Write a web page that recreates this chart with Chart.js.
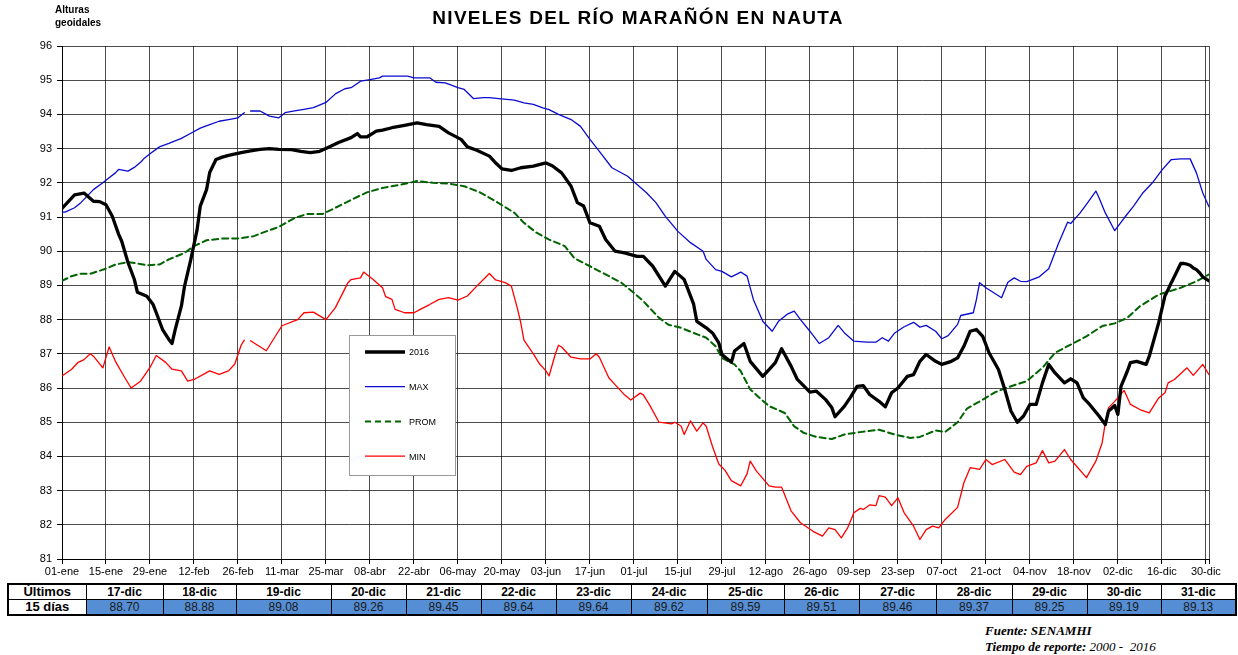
<!DOCTYPE html>
<html>
<head>
<meta charset="utf-8">
<script src="https://cdn.jsdelivr.net/npm/chart.js@4.4.0/dist/chart.umd.min.js"></script>
<style>
  body { margin: 0; background: #fff; font-family: "Liberation Sans", Arial, sans-serif; }
  #wrap { position: relative; width: 1238px; height: 655px; overflow: hidden; }
  #grafico { position: absolute; left: 0; top: 0; }
  #titulo { position: absolute; left: 0; width: 1276px; top: 7px; text-align: center;
            font-weight: bold; font-size: 19px; letter-spacing: 1.3px; }
  #ytitulo { position: absolute; left: 55px; top: 3px; font-weight: bold; font-size: 10px; line-height: 13px; }
  #tabla { position: absolute; left: 7px; top: 583px; border-collapse: collapse; table-layout: fixed;
           border: 2px solid #000; font-size: 12px; }
  #tabla td { border: 1px solid #000; height: 14px; padding: 0; text-align: center; line-height: 14px; }
  #tabla tr:first-child td { font-weight: bold; }
  #tabla td.val { background: #558ed5; color: #1a1a1a; }
  #tabla td.cab { font-weight: bold; font-size: 13px; }
  #fuente { position: absolute; left: 985px; top: 623px; font-family: "Liberation Serif", serif;
            font-style: italic; font-size: 13px; line-height: 16px; }
</style>
</head>
<body>
<div id="wrap">
  <canvas id="grafico" width="1238" height="580"></canvas>
  <div id="titulo">NIVELES DEL RÍO MARAÑÓN EN NAUTA</div>
  <div id="ytitulo">Alturas<br>geoidales</div>
  <table id="tabla"></table>
  <div id="fuente"><b>Fuente: SENAMHI</b><br><b>Tiempo de reporte:</b> 2000 -&nbsp; 2016</div>
</div>
<script>
// Etiquetas del eje X (cada 14 días desde el 01-ene)
const tickLabels = ['01-ene','15-ene','29-ene','12-feb','26-feb','11-mar','25-mar','08-abr','22-abr','06-may',
  '20-may','03-jun','17-jun','01-jul','15-jul','29-jul','12-ago','26-ago','09-sep','23-sep','07-oct',
  '21-oct','04-nov','18-nov','02-dic','16-dic','30-dic'];

// Últimos 15 días (tabla)
const tableDates = ['17-dic','18-dic','19-dic','20-dic','21-dic','22-dic','23-dic','24-dic',
  '25-dic','26-dic','27-dic','28-dic','29-dic','30-dic','31-dic'];
const tableValues = [88.70,88.88,89.08,89.26,89.45,89.64,89.64,89.62,89.59,89.51,89.46,89.37,89.25,89.19,89.13];
const tableFirstDay = 351; // 17-dic

// Serie 2016 (día del año, nivel)
const days2016 = [0,4,7,10,12,14,16,18,19,21,23,24,27,29,30,32,34,35,36,38,
  39,41,43,44,46,47,49,51,53,57,60,63,66,69,73,76,79,82,85,88,
  92,94,95,97,100,102,105,109,113,116,120,123,127,129,132,136,138,140,143,146,
  150,154,156,159,162,164,166,168,171,173,176,179,183,185,188,192,195,198,201,202,
  205,207,209,210,213,214,217,219,223,225,227,229,232,234,238,240,243,245,246,249,
  251,253,255,257,260,262,264,266,269,271,273,275,278,280,283,285,287,289,291,293,
  295,298,300,302,304,306,308,310,312,314,316,319,321,323,325,327,330,332,333,335,
  336,337,339,340,342,345,346,349];
const vals2016 = [91.25,91.65,91.7,91.46,91.45,91.36,91.02,90.5,90.29,89.67,
  89.18,88.8,88.68,88.44,88.2,87.71,87.42,87.3,87.7,88.4,
  88.98,89.76,90.63,91.32,91.8,92.3,92.68,92.75,92.8,92.88,
  92.93,92.98,93.0,92.98,92.97,92.92,92.88,92.92,93.05,93.18,
  93.32,93.44,93.34,93.34,93.51,93.54,93.61,93.68,93.75,93.7,
  93.65,93.46,93.27,93.05,92.95,92.78,92.58,92.41,92.36,92.44,
  92.49,92.58,92.5,92.29,91.9,91.42,91.32,90.83,90.73,90.34,
  90.0,89.95,89.85,89.85,89.56,88.98,89.41,89.17,88.45,87.95,
  87.76,87.61,87.32,86.98,86.75,87.08,87.3,86.78,86.34,86.54,
  86.74,87.15,86.64,86.25,85.88,85.91,85.66,85.42,85.16,85.47,
  85.74,86.05,86.07,85.81,85.61,85.45,85.86,86.0,86.34,86.39,
  86.78,86.98,86.78,86.69,86.78,86.88,87.22,87.66,87.71,87.51,
  87.03,86.54,85.96,85.32,85.0,85.18,85.52,85.52,86.15,86.69,
  86.44,86.15,86.27,86.15,85.71,85.52,85.18,84.93,85.32,85.49,
  85.23,86.05,86.49,86.74,86.78,86.69,86.93,87.91];

// Máximos 2000-2016 (null = sin dato)
const daysMax = [0,1,4,6,8,10,13,15,17,18,21,23,25,26,28,31,34,38,41,44,
  47,50,53,56,58,59,60,63,65,66,69,71,74,77,80,84,87,90,92,95,
  98,101,102,105,110,112,117,119,122,126,128,131,134,136,139,144,147,150,153,155,
  158,162,165,168,171,175,180,183,186,189,192,196,200,204,205,208,210,213,216,218,
  220,223,226,228,231,233,235,238,241,244,247,249,252,256,259,261,263,265,268,271,
  273,275,278,280,282,285,286,290,291,292,294,299,301,303,305,307,311,314,317,320,
  321,324,326,329,330,332,335,338,341,344,347,350,353,356,359,361,363,365];
const valsMax = [91.14,91.14,91.27,91.42,91.61,91.8,92.0,92.15,92.29,92.39,
  92.34,92.45,92.6,92.7,92.85,93.05,93.15,93.3,93.45,93.6,
  93.7,93.8,93.85,93.9,94.05,null,94.1,94.1,94.0,93.95,
  93.9,94.05,94.1,94.15,94.2,94.35,94.6,94.75,94.78,94.97,
  95.02,95.07,95.12,95.12,95.12,95.07,95.07,94.94,94.92,94.78,
  94.73,94.46,94.49,94.49,94.46,94.42,94.34,94.29,94.19,94.14,
  94.0,93.85,93.65,93.27,92.92,92.44,92.19,91.95,91.71,91.42,
  91.02,90.58,90.25,90.0,89.76,89.46,89.41,89.25,89.39,89.27,
  88.59,87.95,87.66,87.95,88.17,88.25,88.0,87.66,87.3,87.47,
  87.83,87.61,87.37,87.34,87.34,87.47,87.37,87.61,87.79,87.92,
  87.78,87.83,87.66,87.44,87.53,87.86,88.12,88.2,88.59,89.08,
  88.93,88.64,89.09,89.22,89.12,89.11,89.25,89.49,90.2,90.85,
  90.81,91.12,91.37,91.76,91.56,91.12,90.6,90.97,91.32,91.71,
  92.0,92.37,92.68,92.7,92.7,92.29,91.71,91.3];

// Promedio
const daysProm = [0,3,6,9,14,17,21,24,27,31,34,39,42,46,51,56,61,65,69,74,
  78,83,87,92,97,102,108,113,118,123,128,133,138,144,147,151,155,160,163,168,
  173,178,182,185,187,190,193,197,201,205,208,210,214,216,219,222,225,230,233,236,
  240,245,249,254,260,265,270,273,278,281,285,288,293,297,302,307,312,316,321,326,
  331,335,339,343,349,356,361,365];
const valsProm = [89.13,89.27,89.34,89.34,89.49,89.61,89.68,89.64,89.59,89.61,
  89.76,89.95,90.15,90.32,90.37,90.37,90.44,90.58,90.71,90.97,
  91.09,91.09,91.27,91.5,91.72,91.85,91.95,92.05,92.0,91.98,
  91.9,91.72,91.46,91.12,90.83,90.54,90.34,90.15,89.8,89.56,
  89.32,89.08,88.78,88.54,88.34,88.05,87.85,87.76,87.61,87.47,
  87.22,86.88,86.69,86.49,85.96,85.71,85.47,85.27,84.88,84.69,
  84.57,84.51,84.64,84.71,84.78,84.64,84.54,84.57,84.76,84.71,
  85.0,85.4,85.66,85.88,86.05,86.2,86.59,87.03,87.27,87.51,
  87.81,87.89,88.05,88.39,88.73,88.93,89.12,89.32];

// Mínimos
const daysMin = [0,3,5,7,9,10,13,15,17,20,22,25,28,30,33,35,38,40,42,45,
  47,50,53,55,57,58,59,60,65,70,75,77,80,84,87,91,92,95,96,99,
  102,103,105,106,109,112,114,117,120,123,126,129,132,136,138,141,143,145,146,147,
  150,152,154,155,157,158,159,162,165,168,170,171,174,176,179,181,184,185,187,190,
  194,195,197,198,200,202,204,205,207,209,211,213,216,218,219,221,225,227,229,232,
  235,239,242,244,246,248,250,252,254,255,257,259,260,262,264,266,268,271,273,275,
  277,279,281,285,287,289,292,294,296,300,303,305,307,310,312,314,316,319,321,326,
  329,331,332,333,335,338,340,343,346,349,351,352,354,358,360,363,365];
const valsMin = [86.35,86.54,86.74,86.83,87.0,86.93,86.59,87.2,86.78,86.3,
  86.0,86.2,86.6,86.95,86.75,86.55,86.5,86.2,86.25,86.4,
  86.5,86.4,86.5,86.7,87.25,87.4,null,87.38,87.09,87.82,
  88.0,88.2,88.22,88.0,88.35,89.08,89.17,89.22,89.39,89.17,
  88.93,88.67,88.59,88.3,88.2,88.2,88.3,88.44,88.59,88.64,
  88.57,88.69,88.98,89.35,89.16,89.08,88.98,88.3,87.9,87.4,
  87.0,86.7,86.5,86.35,87.0,87.25,87.2,86.9,86.85,86.85,
  87.0,86.9,86.3,86.1,85.8,85.65,85.85,85.8,85.5,85.0,
  84.95,85.0,84.89,84.64,85.04,84.74,84.98,84.88,84.29,83.78,
  83.59,83.29,83.14,83.49,83.86,83.57,83.14,83.1,83.1,82.41,
  82.06,81.81,81.67,81.91,81.86,81.62,81.91,82.35,82.48,82.45,
  82.58,82.56,82.85,82.81,82.56,82.79,82.35,81.96,81.57,81.86,
  81.96,81.91,82.15,82.51,83.23,83.67,83.62,83.91,83.76,83.91,
  83.54,83.47,83.71,83.81,84.17,83.81,83.86,84.2,83.91,83.38,
  83.86,84.4,84.98,85.42,85.61,85.93,85.52,85.37,85.27,85.71,
  85.86,86.15,86.25,86.59,86.37,86.69,86.39];

// Arma los puntos {x, y}
function puntos(dias, valores) {
  return dias.map((d, i) => ({ x: d, y: valores[i] }));
}

const serie2016 = puntos(days2016, vals2016)
  .concat(tableValues.map((v, i) => ({ x: tableFirstDay + i, y: v })));

// Tabla de los últimos 15 días
function armarTabla() {
  const anchos = [78,77,73,95,75,75,75,75,76,77,75,77,76,75,74,75];
  const tabla = document.getElementById('tabla');
  let html = '<colgroup>' + anchos.map(w => `<col style="width:${w}px">`).join('') + '</colgroup>';
  html += '<tr><td class="cab">Últimos</td>' + tableDates.map(d => `<td>${d}</td>`).join('') + '</tr>';
  html += '<tr><td class="cab">15 días</td>' + tableValues.map(v => `<td class="val">${v.toFixed(2)}</td>`).join('') + '</tr>';
  tabla.innerHTML = html;
}
armarTabla();

// Leyenda dentro del gráfico
const legendBox = {
  id: 'legendBox',
  afterDatasetsDraw(chart, args, opts) {
    const c = chart.ctx;
    c.save();
    c.fillStyle = '#fff';
    c.strokeStyle = '#999';
    c.lineWidth = 1;
    c.fillRect(opts.x, opts.y, opts.w, opts.h);
    c.strokeRect(opts.x + 0.5, opts.y + 0.5, opts.w, opts.h);
    c.font = '9px "Liberation Sans", Arial';
    c.textBaseline = 'middle';
    chart.data.datasets.forEach((ds, i) => {
      const ly = opts.y + opts.first + i * opts.step;
      c.strokeStyle = ds.borderColor;
      c.lineWidth = ds.borderWidth;
      c.setLineDash(ds.borderDash || []);
      c.beginPath();
      c.moveTo(opts.x + 16, ly);
      c.lineTo(opts.x + 56, ly);
      c.stroke();
      c.fillStyle = '#000';
      c.fillText(ds.label, opts.x + 60, ly + 1);
    });
    c.restore();
  }
};

const gridDots = 'rgba(0,0,0,0.7)';

new Chart(document.getElementById('grafico'), {
  type: 'line',
  data: {
    datasets: [
      { label: '2016', data: serie2016, borderColor: '#000000', borderWidth: 3.3 },
      { label: 'MAX', data: puntos(daysMax, valsMax), borderColor: '#0a0ad0', borderWidth: 1.3 },
      { label: 'PROM', data: puntos(daysProm, valsProm), borderColor: '#006400', borderWidth: 2, borderDash: [6, 4] },
      { label: 'MIN', data: puntos(daysMin, valsMin), borderColor: '#ff0000', borderWidth: 1.3 }
    ]
  },
  options: {
    responsive: false,
    animation: false,
    spanGaps: false,
    elements: { point: { radius: 0 }, line: { tension: 0, borderJoinStyle: 'round', borderCapStyle: 'round' } },
    layout: { padding: { top: 46, right: 29, left: 0, bottom: 0 } },
    plugins: {
      legend: { display: false },
      tooltip: { enabled: false },
      legendBox: { x: 349, y: 335, w: 106, h: 140, first: 17, step: 34.7 }
    },
    scales: {
      x: {
        type: 'linear',
        min: 0,
        max: 365,
        afterBuildTicks: (s) => {
          s.ticks = tickLabels.map((l, i) => ({ value: i * 14 })).concat([{ value: 365 }]);
        },
        afterFit: (s) => { s.height = 21; },
        ticks: {
          autoSkip: false,
          maxRotation: 0,
          padding: 1,
          color: '#000',
          font: { family: '"Liberation Sans", Arial', size: 11 },
          callback: (v) => tickLabels[v / 14] || ''
        },
        grid: { color: gridDots, borderDash: [1, 1], lineWidth: 1, tickLength: 5, tickColor: '#000', tickBorderDash: [] },
        border: { color: '#000', width: 1 }
      },
      y: {
        min: 81,
        max: 96,
        afterFit: (s) => { s.width = 62; },
        ticks: {
          stepSize: 1,
          padding: 5,
          color: '#000',
          font: { family: '"Liberation Sans", Arial', size: 11 }
        },
        grid: { color: gridDots, borderDash: [1, 1], lineWidth: 1, tickLength: 5, tickColor: '#000', tickBorderDash: [] },
        border: { color: '#000', width: 1 }
      }
    }
  },
  plugins: [legendBox]
});
</script>
</body>
</html>
